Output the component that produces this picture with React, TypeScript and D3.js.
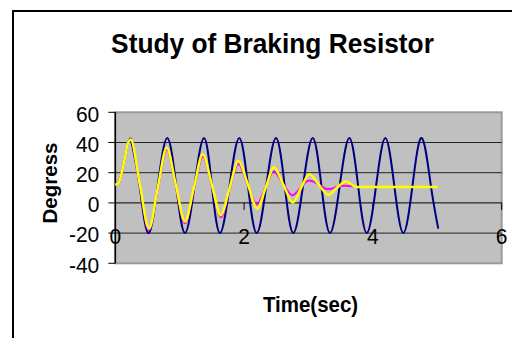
import React from "react";
import * as d3 from "d3";

const xTicks = [0, 2, 4, 6];
const yTicks = [-40, -20, 0, 20, 40, 60];
const gridValues = [-20, 20, 40];

// Without braking resistor (sustained swing)
const blueT = [0, 0.05, 0.1, 0.15, 0.2, 0.239, 0.376, 0.512, 0.66, 0.807, 0.945, 1.082, 1.23, 1.377, 1.5, 1.626, 1.775, 1.925, 2.06, 2.196, 2.345, 2.495, 2.63, 2.764, 2.915, 3.065, 3.2, 3.334, 3.485, 3.634, 3.77, 3.904, 4.05, 4.193, 4.332, 4.472, 4.615, 4.758, 4.9, 5.015];
const blueV = [12, 13, 20, 30, 40, 43, 11.5, -20, 11.5, 43, 11.5, -20, 11.5, 43, 11.5, -20, 11.5, 43, 11.5, -20, 11.5, 43, 11.5, -20, 11.5, 43, 11.5, -20, 11.5, 43, 11.5, -20, 11.5, 43, 11.5, -20, 11.5, 43, 11.5, -17];

// Braking resistor case A (magenta)
const magT = [0, 0.05, 0.1, 0.15, 0.2, 0.239, 0.38, 0.52, 0.66, 0.8, 0.94, 1.08, 1.22, 1.36, 1.5, 1.64, 1.775, 1.91, 2.055, 2.2, 2.33, 2.46, 2.6, 2.75, 2.88, 3.0, 3.03, 3.17, 3.28, 3.34, 3.44, 3.56, 3.72];
const magV = [12, 13, 20, 30, 40, 42, 12, -18, 9, 35.3, 11, -13.5, 9, 30.7, 11, -9.5, 9, 26, 12, -1, 10, 21, 13, 5, 10, 14.6, 14.6, 12, 9.2, 9.2, 10.5, 11.3, 11];

// Braking resistor case B (yellow)
const yelT = [0, 0.05, 0.1, 0.15, 0.2, 0.239, 0.38, 0.523, 0.66, 0.798, 0.94, 1.082, 1.22, 1.357, 1.5, 1.637, 1.775, 1.91, 2.06, 2.205, 2.335, 2.464, 2.61, 2.755, 2.885, 3.013, 3.16, 3.308, 3.44, 3.578, 3.75, 5.006];
const yelV = [12, 13, 20, 30, 40, 42, 12.5, -17, 10, 36.6, 12, -12.4, 10, 32.2, 12, -8.2, 10, 27.8, 12, -3.8, 10, 23.4, 12, 0.2, 10, 19, 12, 5.3, 10, 14.1, 10.6, 10.6];

export default function App() {
  const x = d3.scaleLinear().domain([0, 6]).range([115.3, 501.7]);
  const y = d3.scaleLinear().domain([-40, 60]).range([263.3, 112.3]);
  const mk = (ts: number[], vs: number[], curve: d3.CurveFactory) =>
    d3
      .line<number>()
      .x((_, i) => x(ts[i]))
      .y((v) => y(v))
      .curve(curve)(vs) || "";
  const split = 5; // first peak: rise drawn monotone, sustained swing drawn smooth
  const font = "'Liberation Sans', Arial, sans-serif";
  return (
    <svg
      width={512}
      height={338}
      style={{ position: "absolute", left: 0, top: 0, overflow: "hidden", background: "#fff" }}
      fontFamily={font}
    >
      <rect x={13} y={11} width={540} height={360} fill="#fff" stroke="#000" strokeWidth={2} />
      <text
        transform="translate(272.5,53) scale(1,1.07)"
        textAnchor="middle"
        fontSize={26.3}
        fontWeight="bold"
      >
        Study of Braking Resistor
      </text>
      <rect
        x={x(0)}
        y={y(60)}
        width={x(6) - x(0)}
        height={y(-40) - y(60)}
        fill="#C0C0C0"
        stroke="#9a9a9a"
        strokeWidth={2}
      />
      {gridValues.map((g) => (
        <line key={g} x1={x(0)} x2={x(6)} y1={y(g)} y2={y(g)} stroke="#222" strokeWidth={1} />
      ))}
      <line x1={x(0)} x2={x(6)} y1={y(0)} y2={y(0)} stroke="#000" strokeWidth={1} />
      {xTicks.slice(1).map((t) => (
        <line key={t} x1={x(t)} x2={x(t)} y1={y(0)} y2={y(0) + 7} stroke="#000" strokeWidth={1} />
      ))}
      <line x1={x(0)} x2={x(0)} y1={y(60)} y2={y(-40)} stroke="#000" strokeWidth={1.5} />
      {yTicks.map((t) => (
        <line key={t} x1={x(0) - 7} x2={x(0)} y1={y(t)} y2={y(t)} stroke="#000" strokeWidth={1} />
      ))}
      {yTicks.map((t) => (
        <text
          key={t}
          transform={`translate(99.3,${y(t) + 9.3}) scale(1,1.05)`}
          textAnchor="end"
          fontSize={21}
        >
          {t}
        </text>
      ))}
      <path
        d={mk(blueT.slice(0, split + 1), blueV.slice(0, split + 1), d3.curveMonotoneX)}
        fill="none"
        stroke="#000080"
        strokeWidth={2}
      />
      <path
        d={mk(blueT.slice(split), blueV.slice(split), d3.curveNatural)}
        fill="none"
        stroke="#000080"
        strokeWidth={2}
      />
      <path d={mk(magT, magV, d3.curveMonotoneX)} fill="none" stroke="#FF00FF" strokeWidth={2} />
      <path d={mk(yelT, yelV, d3.curveMonotoneX)} fill="none" stroke="#FFFF00" strokeWidth={2.5} />
      {xTicks.map((t) => (
        <text
          key={t}
          transform={`translate(${x(t)},243.5) scale(1,1.05)`}
          textAnchor="middle"
          fontSize={21}
        >
          {t}
        </text>
      ))}
      <text
        transform="translate(56.5,183) rotate(-90)"
        textAnchor="middle"
        fontSize={20.5}
        fontWeight="bold"
      >
        Degress
      </text>
      <text
        transform="translate(310.5,311.5) scale(1,1.05)"
        textAnchor="middle"
        fontSize={20.5}
        fontWeight="bold"
      >
        Time(sec)
      </text>
    </svg>
  );
}
